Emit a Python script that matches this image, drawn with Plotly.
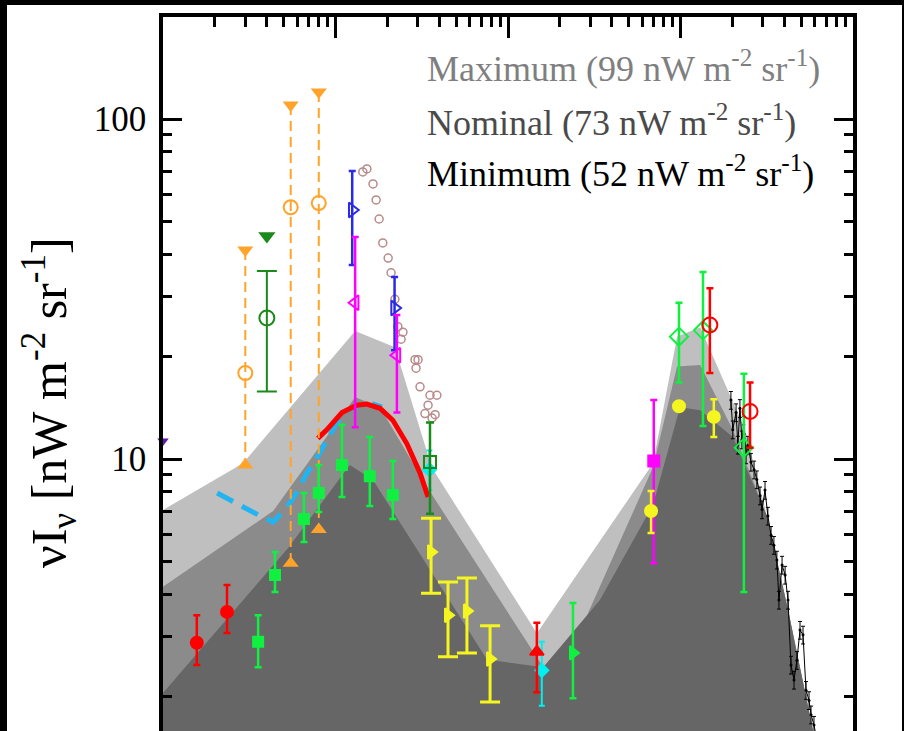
import plotly.graph_objects as go

# ---------------- data (wavelength in micron, nuI_nu in nW m^-2 sr^-1) ----------------
# shaded EBL envelopes
max_lam = [0.1, 0.291, 1.30, 2.21, 3.62, 14.7, 69.3, 95.5, 130, 237]
max_val = [7.08, 9.72, 23.8, 21.3, 9.42, 3.07, 9.72, 22.9, 24.4, 12.2]
nom_lam = [0.1, 0.435, 1.30, 1.81, 3.39, 16.0, 23.8, 69.3, 95.5, 130, 201]
nom_val = [4.21, 7.03, 15.2, 14.2, 8.28, 2.44, 2.80, 9.46, 18.7, 18.9, 12.2]
min_lam = [0.1, 0.531, 1.21, 1.65, 7.55, 16.0, 34.1, 69.3, 99.3, 130, 201]
min_val = [2.05, 5.47, 9.6, 8.67, 2.57, 2.44, 3.85, 7.33, 14.2, 13.9, 11.6]
tail_lam = [317, 420, 586, 841]
tail_val = [6.8, 3.6, 1.58, 0.66]

# model curves
red_lam = [0.79, 0.893, 1.09, 1.33, 1.52, 1.81, 2.15, 2.59, 3.09, 3.44]
red_val = [11.5, 12.2, 13.7, 14.4, 14.5, 14.1, 13.0, 11.1, 9.1, 7.73]
blue_lam = [0.206, 0.291, 0.356, 0.435, 0.524, 0.598, 0.684, 0.782, 0.893, 1.02, 1.17, 1.39, 1.65, 1.86]
blue_val = [7.94, 7.22, 6.85, 6.53, 7.22, 8.0, 9.1, 10.1, 11.4, 12.8, 13.9, 14.4, 14.5, 14.2]

# orange limits
or_lam = [0.3, 0.55, 0.8]
or_up = [41.2, 110, 120]
or_mid = [17.9, 55, 56.6]
or_lo = [9.6, 4.94, 6.2]

purple_lam = [0.1]
purple_val = [11.3]

dg_tri_lam = [0.4]
dg_tri_val = [45.3]
dg_circ_lam = [0.4]
dg_circ_val = [26.0]
dg_circ_up = [35.7]
dg_circ_lo = [15.8]
dg_sq_lam = [3.53]
dg_sq_val = [9.8]
dg_sq_up = [12.8]
dg_sq_lo = [6.9]

gsq_lam = [0.356, 0.446, 0.656, 0.8, 1.09, 1.58, 2.15]
gsq_val = [2.9, 4.56, 6.66, 7.94, 9.6, 8.9, 7.84]
gsq_up = [3.47, 5.33, 7.94, 9.6, 12.6, 11.6, 9.87]
gsq_lo = [2.44, 4.06, 5.7, 6.98, 7.73, 7.27, 6.66]

gtri_lam = [23.8]
gtri_val = [2.69]
gtri_up = [3.77]
gtri_lo = [1.98]

gdia_lam = [98, 135, 233]
gdia_val = [22.9, 23.9, 10.8]
gdia_up = [28.8, 35.5, 17.8]
gdia_lo = [16.8, 12.5, 4.06]

rc_lam = [0.157, 0.235]
rc_val = [2.88, 3.55]
rc_up = [3.47, 4.26]
rc_lo = [2.48, 3.08]

rt_lam = [14.7]
rt_val = [2.71]
rt_up = [3.3]
rt_lo = [2.06]

roc_lam = [148, 253]
roc_val = [24.8, 13.8]
roc_up = [31.8, 16.8]
roc_lo = [17.9, 10.8]

bt_lam = [1.25, 2.2]
bt_val = [54, 27.8]
bt_up = [70.3, 34.3]
bt_lo = [37.2, 20.9]

mt_lam = [1.3, 2.27]
mt_val = [28.8, 20.2]
mt_up = [45, 26.5]
mt_lo = [12.4, 13.7]

msq_lam = [70]
msq_val = [9.87]
msq_up = [14.9]
msq_lo = [4.94]

yt_lam = [3.58, 4.49, 5.78, 7.87]
yt_val = [5.33, 3.47, 3.57, 2.58]
yt_up = [6.7, 4.35, 4.47, 3.23]
yt_lo = [4.03, 2.62, 2.69, 1.93]

yc_lam = [67.5, 98, 156]
yc_val = [7.03, 14.3, 13.3]
yc_up = [8.05, 14.3, 15.0]
yc_lo = [6.06, 14.3, 11.6]

cy_lam = [3.5, 15.7]
cy_val = [9.29, 2.39]
cy_up = [10.6, 2.9]
cy_lo = [8.1, 1.88]

br_lam = [1.44, 1.52, 1.65, 1.72, 1.79, 1.88, 2.02, 2.10, 2.21, 2.30, 2.46, 2.40,
          2.89, 3.01, 2.93, 3.09, 3.53, 3.87, 3.44, 3.30, 3.78, 3.63]
br_val = [69.9, 71.3, 64.4, 57.8, 50.8, 43.2, 39.0, 35.3, 29.5, 24.5, 23.6, 22.5,
          19.6, 19.6, 18.5, 16.3, 15.4, 15.4, 14.4, 13.6, 13.5, 13.2]

fir_lam = [196, 201, 210, 215, 221, 227, 233, 240, 246, 256, 267, 277, 289, 297, 309, 321,
           335, 348, 362, 372, 388, 404, 420, 437, 455, 473, 493, 513, 534, 556, 571, 594, 618]
fir_val = [14.9, 12.2, 13.7, 11.0, 14.1, 11.4, 12.6, 10.3, 11.0, 9.8, 9.3, 8.7, 7.8, 7.1, 8.1, 6.8,
           5.97, 5.58, 5.05, 3.85, 4.88, 4.56, 3.85, 2.48, 2.24, 2.56, 3.14, 3.04, 2.09, 1.95, 1.77, 1.65, 1.49]

legend_lines = ["Maximum (99 nW m<sup>-2</sup> sr<sup>-1</sup>)",
                "Nominal (73 nW m<sup>-2</sup> sr<sup>-1</sup>)",
                "Minimum (52 nW m<sup>-2</sup> sr<sup>-1</sup>)"]
legend_colors = ["#7f7f7f", "#4a4a4a", "#000000"]

# ---------------- figure ----------------
fig = go.Figure()


def band(lam, val, color):
    xs = list(lam) + tail_lam + [tail_lam[-1], lam[0]]
    ys = list(val) + tail_val + [0.3, 0.3]
    fig.add_trace(go.Scatter(x=xs, y=ys, fill='toself', fillcolor=color, mode='lines',
                             line=dict(width=0, color=color), hoverinfo='skip', showlegend=False))


band(max_lam, max_val, '#bfbfbf')
band(nom_lam, nom_val, '#8b8b8b')
band(min_lam, min_val, '#666666')


def pts(lam, val, up, lo, symbol, color, size, thick, cap, lw=2):
    fig.add_trace(go.Scatter(
        x=lam, y=val, mode='markers',
        marker=dict(symbol=symbol, size=size, color=color, line=dict(color=color, width=lw)),
        error_y=dict(type='data', symmetric=False,
                     array=[u - v for u, v in zip(up, val)],
                     arrayminus=[v - l for v, l in zip(val, lo)],
                     color=color, thickness=thick, width=cap),
        showlegend=False, hoverinfo='skip'))


# cyan points (behind)
pts(cy_lam, cy_val, cy_up, cy_lo, 'diamond', '#00f0f0', 10, 2, 3)

# FIR spectrum
fig.add_trace(go.Scatter(x=fir_lam, y=fir_val, mode='lines+markers',
                         line=dict(color='black', width=1),
                         marker=dict(size=3, color='black'),
                         error_y=dict(type='percent', value=6, color='black', thickness=1, width=2),
                         showlegend=False, hoverinfo='skip'))

# model curves
fig.add_trace(go.Scatter(x=blue_lam, y=blue_val, mode='lines',
                         line=dict(color='#22b4f0', width=5, dash='18px,10px'),
                         showlegend=False, hoverinfo='skip'))
fig.add_trace(go.Scatter(x=red_lam, y=red_val, mode='lines', line=dict(color='#ff0000', width=5),
                         showlegend=False, hoverinfo='skip'))

# brown open circles
fig.add_trace(go.Scatter(x=br_lam, y=br_val, mode='markers',
                         marker=dict(symbol='circle-open', size=8, color='#b98a8a', line=dict(width=1.5)),
                         showlegend=False, hoverinfo='skip'))

# orange limits
ox, oy = [], []
for l, u, d in zip(or_lam, or_up, or_lo):
    ox += [l, l, None]
    oy += [u, d, None]
fig.add_trace(go.Scatter(x=ox, y=oy, mode='lines', line=dict(color='#ffa32a', width=2, dash='10px,6px'),
                         showlegend=False, hoverinfo='skip'))
fig.add_trace(go.Scatter(x=or_lam, y=or_up, mode='markers',
                         marker=dict(symbol='triangle-down', size=14, color='#ffa32a'),
                         showlegend=False, hoverinfo='skip'))
fig.add_trace(go.Scatter(x=or_lam, y=or_lo, mode='markers',
                         marker=dict(symbol='triangle-up', size=14, color='#ffa32a'),
                         showlegend=False, hoverinfo='skip'))
fig.add_trace(go.Scatter(x=or_lam, y=or_mid, mode='markers',
                         marker=dict(symbol='circle-open', size=14, color='#ffa32a', line=dict(width=2)),
                         showlegend=False, hoverinfo='skip'))

# purple
fig.add_trace(go.Scatter(x=purple_lam, y=purple_val, mode='markers', cliponaxis=False,
                         marker=dict(symbol='triangle-down', size=10, color='#6018a8'),
                         showlegend=False, hoverinfo='skip'))

# dark green
fig.add_trace(go.Scatter(x=dg_tri_lam, y=dg_tri_val, mode='markers',
                         marker=dict(symbol='triangle-down', size=15, color='#1a8a1a'),
                         showlegend=False, hoverinfo='skip'))
pts(dg_circ_lam, dg_circ_val, dg_circ_up, dg_circ_lo, 'circle-open', '#1a8a1a', 15, 2, 10)
pts(dg_sq_lam, dg_sq_val, dg_sq_up, dg_sq_lo, 'square-open', '#1a8a1a', 12, 2.5, 4)

# bright green
pts(gsq_lam, gsq_val, gsq_up, gsq_lo, 'square', '#10f040', 10, 2.5, 3.5)
pts(gtri_lam, gtri_val, gtri_up, gtri_lo, 'triangle-right', '#10f040', 12, 2.5, 3.5)
pts(gdia_lam, gdia_val, gdia_up, gdia_lo, 'diamond-open', '#10f040', 14, 2.5, 3.5)

# red
pts(rc_lam, rc_val, rc_up, rc_lo, 'circle', '#ff0000', 12, 2.5, 3.5)
pts(rt_lam, rt_val, rt_up, rt_lo, 'triangle-up', '#ff0000', 12, 2.5, 3.5)
pts(roc_lam, roc_val, roc_up, roc_lo, 'circle-open', '#ff0000', 15, 2.5, 3.5)

# blue / magenta
pts(bt_lam, bt_val, bt_up, bt_lo, 'triangle-right-open', '#2a2ae6', 13, 2.5, 3.5)
pts(mt_lam, mt_val, mt_up, mt_lo, 'triangle-left-open', '#ff00ff', 13, 2.5, 3.5)
pts(msq_lam, msq_val, msq_up, msq_lo, 'square', '#ff00ff', 11, 2.5, 3.5)

# yellow
pts(yt_lam, yt_val, yt_up, yt_lo, 'triangle-right', '#f5f520', 12, 3, 10)
pts(yc_lam, yc_val, yc_up, yc_lo, 'circle', '#f5f520', 12, 2.5, 3.5)

# ---------------- annotations ----------------
annots = []
ys = [0.9300, 0.8555, 0.7830]
for t, c, yv in zip(legend_lines, legend_colors, ys):
    annots.append(dict(text=t, x=0.3800, y=yv, xref='paper', yref='paper', xanchor='left', yanchor='middle',
                       showarrow=False, font=dict(family='Liberation Serif', size=36, color=c)))
annots.append(dict(text="νI<sub>ν</sub> [nW m<sup>-2</sup> sr<sup>-1</sup>]", x=-0.1638, y=0.4608,
                   xref='paper', yref='paper', xanchor='center', yanchor='middle', textangle=-90,
                   showarrow=False, font=dict(family='Liberation Serif', size=50, color='black')))

shapes = [
    dict(type='rect', xref='paper', yref='paper', x0=-0.4, x1=(7 - 163) / 690, y0=-0.2, y1=1.2,
         fillcolor='black', line=dict(width=0), layer='above'),
    dict(type='rect', xref='paper', yref='paper', x0=-0.4, x1=1.2, y0=(731 - 5) / 714, y1=1.2,
         fillcolor='black', line=dict(width=0), layer='above'),
    dict(type='rect', xref='paper', yref='paper', x0=(902 - 163) / 690, x1=1.2, y0=-0.2, y1=1.2,
         fillcolor='black', line=dict(width=0), layer='above'),
]

axis_common = dict(type='log', showline=True, linecolor='black', linewidth=3.5, ticks='inside',
                   tickcolor='black', tickwidth=3, dtick=1, showgrid=False, zeroline=False)

fig.update_layout(
    width=904, height=731,
    margin=dict(l=163, r=51, t=17, b=0, pad=0),
    paper_bgcolor='white', plot_bgcolor='white',
    font=dict(family='Liberation Serif', color='black'),
    xaxis=dict(axis_common, range=[-1, 3], side='top', ticklen=21, showticklabels=False,
               minor=dict(ticks='inside', ticklen=10, tickwidth=3, tickcolor='black', dtick='D1', showgrid=False)),
    yaxis=dict(axis_common, range=[0.2, 2.3], mirror='ticks', ticklen=19,
               tickfont=dict(family='Liberation Serif', size=35, color='black'), ticklabelstandoff=6,
               minor=dict(ticks='inside', ticklen=9, tickwidth=3, tickcolor='black', dtick='D1', showgrid=False)),
    annotations=annots, shapes=shapes, showlegend=False,
)

fig.write_html("out.html", config={'displayModeBar': False},
               post_script="document.body.style.margin='0';document.body.style.overflow='hidden';")
